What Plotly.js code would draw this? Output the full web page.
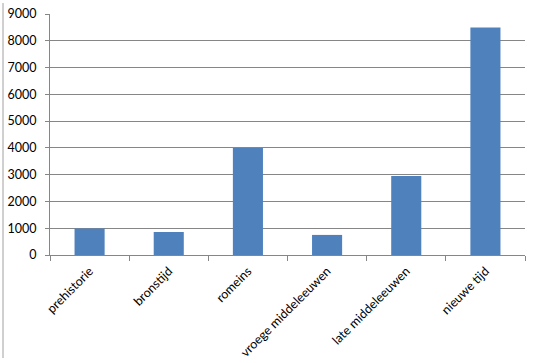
<!DOCTYPE html>
<html>
<head>
<meta charset="utf-8">
<script src="https://cdn.plot.ly/plotly-3.0.1.min.js"></script>
<style>html,body{margin:0;padding:0;background:#fff;}#chart{width:538px;height:363px;}</style>
</head>
<body>
<div id="chart"></div>
<script>
const categories = ["prehistorie", "bronstijd", "romeins", "vroege middeleeuwen", "late middeleeuwen", "nieuwe tijd"];
const values = [990, 860, 4000, 750, 2950, 8500];
const yTicks = [0, 1000, 2000, 3000, 4000, 5000, 6000, 7000, 8000, 9000];

const trace = {
  type: "bar",
  x: categories,
  y: values,
  marker: { color: "#4F81BD" },
  hoverinfo: "x+y"
};

const layout = {
  width: 538,
  height: 363,
  margin: { l: 50, r: 13, t: 14, b: 108 },
  paper_bgcolor: "#ffffff",
  plot_bgcolor: "#ffffff",
  font: { family: "Lato, 'Open Sans', sans-serif", size: 12, color: "#000000" },
  bargap: 0.62,
  showlegend: false,
  xaxis: {
    type: "category",
    tickangle: -45,
    ticks: "outside",
    tickson: "boundaries",
    ticklen: 5,
    tickcolor: "#868686",
    showline: true,
    linecolor: "#868686",
    linewidth: 1,
    showgrid: false,
    zeroline: false,
    ticklabelstandoff: 3,
    tickfont: { size: 12.5, color: "#000000" }
  },
  yaxis: {
    range: [0, 9000],
    tickvals: yTicks,
    ticktext: yTicks.map(String),
    ticks: "outside",
    ticklen: 4,
    tickcolor: "#868686",
    showline: true,
    linecolor: "#868686",
    linewidth: 1,
    showgrid: true,
    gridcolor: "#868686",
    gridwidth: 1,
    zeroline: false,
    ticklabelstandoff: 6,
    tickfont: { size: 12.5, color: "#000000" }
  },
  shapes: [
    {
      type: "line", xref: "paper", yref: "paper",
      x0: -47/475, x1: -47/475, y0: -103/241, y1: 1 + 11/241,
      line: { color: "#a0a0a0", width: 1 }
    }
  ]
};

Plotly.newPlot("chart", [trace], layout, { displayModeBar: false, staticPlot: true });
</script>
</body>
</html>
